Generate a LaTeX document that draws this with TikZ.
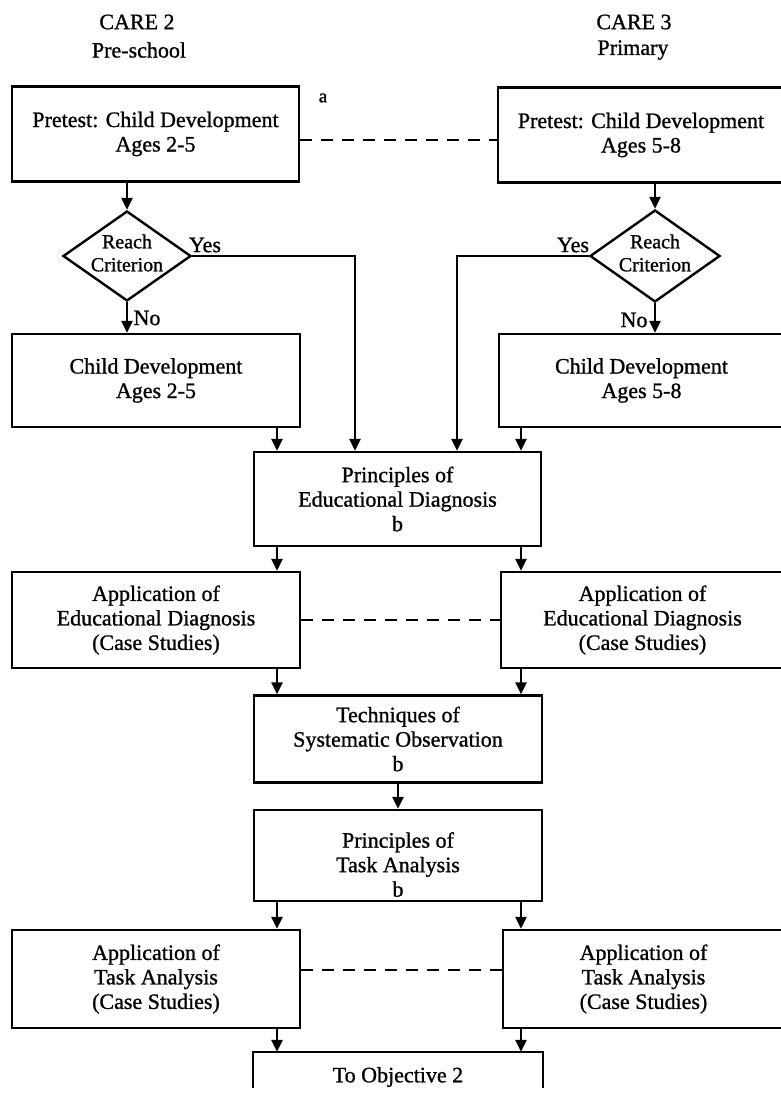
\documentclass[tikz,border=0pt]{standalone}
\usepackage{fontspec}
\setmainfont{Liberation Serif}[FakeBold=1]
\usetikzlibrary{arrows.meta,shapes.geometric}
\begin{document}
\begin{tikzpicture}[x=1pt,y=-1pt,
  every node/.style={font=\fontsize{22}{24.5}\selectfont},
  box/.style={draw, line width=2.4pt, align=center, inner sep=0pt},
  dia/.style={draw, diamond, line width=2.4pt, inner sep=0pt},
  arr/.style={line width=2.4pt, -{Triangle[width=11pt,length=12pt]}},
  link/.style={line width=2.4pt},
  dashlink/.style={line width=2pt, dash pattern=on 12pt off 9pt},
  txt/.style={align=center, inner sep=0pt}]
\useasboundingbox (0,0) rectangle (780,1099);

% headers
\node[txt] (h2)  at (137,22) {CARE 2};
\node[txt] (h2s) at (139,50) {Pre-school};
\node[txt] (h3)  at (634,22) {CARE 3};
\node[txt] (h3s) at (633,50) {Primary};

% boxes
\node[box, minimum width=287pt, minimum height=95pt] (pre2) at (155.5,134) {Pretest: Child Development\\Ages 2-5};
\node[box, minimum width=286pt, minimum height=95pt] (pre3) at (641,135) {Pretest: Child Development\\Ages 5-8};
\node[txt, font=\fontsize{19}{20}\selectfont] (la) at (323,98) {a};

\node[dia, minimum width=128pt, minimum height=90pt] (d2) at (127,256) {};
\node[txt, font=\fontsize{20}{23}\selectfont] (d2t) at (127,253) {Reach\\Criterion};
\node[dia, minimum width=130pt, minimum height=92pt] (d3) at (655,256) {};
\node[txt, font=\fontsize{20}{23}\selectfont] (d3t) at (655,253) {Reach\\Criterion};

\node[txt] (y2) at (205,245) {Yes};
\node[txt] (y3) at (573,245) {Yes};
\node[txt] (n2) at (147,318) {No};
\node[txt] (n3) at (634,320) {No};

\node[box, minimum width=288pt, minimum height=93pt] (cd2) at (156,380.5) {Child Development\\Ages 2-5};
\node[box, minimum width=285pt, minimum height=93pt] (cd3) at (641.5,380.5) {Child Development\\Ages 5-8};

\node[box, minimum width=287pt, minimum height=94pt] (ped) at (397.5,499) {Principles of\\Educational Diagnosis\\b};

\node[box, minimum width=288pt, minimum height=96pt] (aed2) at (156,620) {Application of\\Educational Diagnosis\\(Case Studies)};
\node[box, minimum width=283pt, minimum height=96pt] (aed3) at (642.5,620) {Application of\\Educational Diagnosis\\(Case Studies)};

\node[box, minimum width=288pt, minimum height=87pt] (tso) at (398,739) {Techniques of\\Systematic Observation\\b};
\node[box, minimum width=288pt, minimum height=91pt,
      label={[txt, name=ptat, yshift=-9pt]center:{Principles of\\Task Analysis\\b}}] (pta) at (398,855.5) {};

\node[box, minimum width=288pt, minimum height=98pt] (ata2) at (156,979) {Application of\\Task Analysis\\(Case Studies)};
\node[box, minimum width=281pt, minimum height=98pt] (ata3) at (643.5,979) {Application of\\Task Analysis\\(Case Studies)};

\node[inner sep=0pt, minimum width=290pt, minimum height=36pt] (fin) at (398,1070) {};
\node[txt] (fint) at (398,1077) {To Objective 2};
\draw[link] (fin.south west) -- (fin.north west) -- (fin.north east) -- (fin.south east);

% column coordinates
\coordinate (cl) at (277,0);
\coordinate (cr) at (521,0);
\coordinate (cm) at (398,0);
\coordinate (yl) at (355,0);
\coordinate (yr) at (457,0);
\coordinate (da) at (0,140);
\coordinate (db) at (0,970);

% connectors
\draw[arr] (pre2.south -| d2.north) -- (d2.north);
\draw[arr] (pre3.south -| d3.north) -- (d3.north);
\draw[arr] (d2.south) -- (cd2.north -| d2.south);
\draw[arr] (d3.south) -- (cd3.north -| d3.south);
\draw[arr] (d2.east) -| (ped.north -| yl);
\draw[arr] (d3.west) -| (ped.north -| yr);
\draw[arr] (cd2.south -| cl) -- (ped.north -| cl);
\draw[arr] (cd3.south -| cr) -- (ped.north -| cr);
\draw[arr] (ped.south -| cl) -- (aed2.north -| cl);
\draw[arr] (ped.south -| cr) -- (aed3.north -| cr);
\draw[arr] (aed2.south -| cl) -- (tso.north -| cl);
\draw[arr] (aed3.south -| cr) -- (tso.north -| cr);
\draw[arr] (tso.south -| cm) -- (pta.north -| cm);
\draw[arr] (pta.south -| cl) -- (ata2.north -| cl);
\draw[arr] (pta.south -| cr) -- (ata3.north -| cr);
\draw[arr] (ata2.south -| cl) -- (fin.north -| cl);
\draw[arr] (ata3.south -| cr) -- (fin.north -| cr);

% dashed links
\draw[dashlink] (pre2.east |- da) -- (pre3.west |- da);
\draw[dashlink] (aed2.east) -- (aed3.west);
\draw[dashlink] (ata2.east |- db) -- (ata3.west |- db);
\end{tikzpicture}
\end{document}
